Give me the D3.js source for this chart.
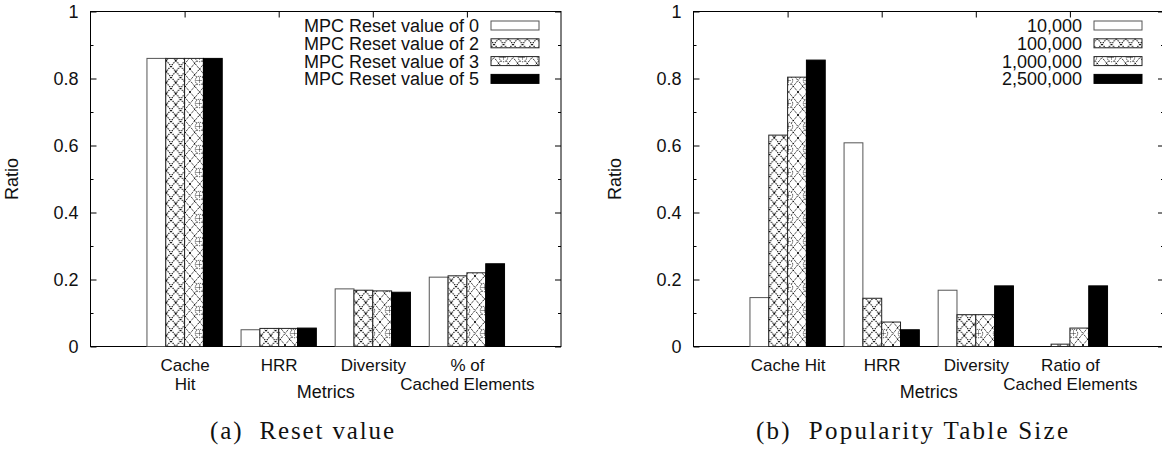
<!DOCTYPE html>
<html>
<head>
<meta charset="utf-8">
<script src="https://cdn.jsdelivr.net/npm/d3@7"></script>
<style>
  body { margin: 0; background: #fff; }
  svg text { font-family: "Liberation Sans", Arial, Helvetica, sans-serif; fill: #111; }
  svg text.caption { font-family: "Liberation Serif", "Times New Roman", serif; }
</style>
</head>
<body>
<svg id="fig" width="1162" height="454"></svg>
<script>
// ---- data -------------------------------------------------------------
const yTicks = [0, 0.2, 0.4, 0.6, 0.8, 1];
const yMinorTicks = [0.1, 0.3, 0.5, 0.7, 0.9];

// (a) effect of the MPC reset value
const metricsReset = [["Cache", "Hit"], ["HRR"], ["Diversity"], ["% of", "Cached Elements"]];
const seriesReset = ["MPC Reset value of 0", "MPC Reset value of 2", "MPC Reset value of 3", "MPC Reset value of 5"];
const reset0 = [0.86, 0.050, 0.172, 0.207];
const reset2 = [0.86, 0.054, 0.168, 0.211];
const reset3 = [0.86, 0.054, 0.166, 0.220];
const reset5 = [0.86, 0.055, 0.162, 0.247];

// (b) effect of the popularity table size
const metricsTable = [["Cache Hit"], ["HRR"], ["Diversity"], ["Ratio of", "Cached Elements"]];
const seriesTable = ["10,000", "100,000", "1,000,000", "2,500,000"];
const size10k = [0.146, 0.608, 0.168, 0.000];
const size100k = [0.631, 0.144, 0.095, 0.007];
const size1m = [0.804, 0.073, 0.095, 0.055];
const size2500k = [0.855, 0.050, 0.181, 0.181];

// ---- fill patterns ----------------------------------------------------
const svg = d3.select("#fig");
const defs = svg.append("defs");

// diagonal cross-hatch made of dotted strokes
const pCross = defs.append("pattern").attr("id", "patCross")
  .attr("patternUnits", "userSpaceOnUse").attr("width", 9.5).attr("height", 11);
pCross.append("rect").attr("width", 9.5).attr("height", 11).attr("fill", "#fff");
pCross.append("path").attr("d", "M0,0L9.5,11M9.5,0L0,11")
  .attr("stroke", "#000").attr("stroke-width", 1).attr("stroke-dasharray", "1.4,1").attr("fill", "none");
pCross.append("rect").attr("x", 4).attr("y", 4.8).attr("width", 1.5).attr("height", 1.5).attr("fill", "#000");

// diamond lattice with small ring motifs
const pRing = defs.append("pattern").attr("id", "patRing")
  .attr("patternUnits", "userSpaceOnUse").attr("width", 19).attr("height", 23);
pRing.append("rect").attr("width", 19).attr("height", 23).attr("fill", "#fff");
pRing.append("path").attr("d", "M0,0L19,23M19,0L0,23M9.5,0L19,11.5L9.5,23L0,11.5Z")
  .attr("stroke", "#000").attr("stroke-width", 1).attr("stroke-dasharray", "1.2,1").attr("fill", "none");
pRing.append("circle").attr("cx", 9.5).attr("cy", 11.5).attr("r", 4.2)
  .attr("fill", "#fff").attr("stroke", "#000").attr("stroke-width", 0.9).attr("stroke-dasharray", "1,1");
pRing.append("path").attr("d", "M9.5,8.5V14.5M6.5,11.5H12.5")
  .attr("stroke", "#000").attr("stroke-width", 0.8).attr("stroke-dasharray", "1,1");

const fills = ["#fff", "url(#patCross)", "url(#patRing)", "#000"];
const strokes = ["#555", "#222", "#222", "#000"];
const FONT = 18;
const CAT_FONT = 17;

// ---- one histogram panel ---------------------------------------------
function panel(opts) {
  const L = opts.left, R = opts.left + 470.5;
  const top = 11.5, bottom = 346.5;
  const g = svg.append("g");

  const x = d3.scaleLinear().domain([-1, 4]).range([L, R]);
  const y = d3.scaleLinear().domain([0, 1]).range([bottom, top]);
  const groups = d3.range(opts.metrics.length);
  const bw = x(0.2) - x(0);

  const tidy = sel => {
    sel.select(".domain").remove();
    sel.selectAll("line").attr("stroke", "#000");
    sel.selectAll("text").attr("font-size", FONT).attr("font-family", null).attr("fill", "#111");
  };

  g.append("g").attr("transform", `translate(${L},0)`)
    .call(d3.axisLeft(y).tickValues(yTicks).tickSize(-6).tickPadding(12).tickFormat(d3.format("~g"))).call(tidy);
  g.append("g").attr("transform", `translate(${L},0)`)
    .call(d3.axisLeft(y).tickValues(yMinorTicks).tickSize(-3).tickFormat("")).call(tidy);
  g.append("g").attr("transform", `translate(${R},0)`)
    .call(d3.axisRight(y).tickValues(yTicks).tickSize(-6).tickFormat("")).call(tidy);
  g.append("g").attr("transform", `translate(${R},0)`)
    .call(d3.axisRight(y).tickValues(yMinorTicks).tickSize(-3).tickFormat("")).call(tidy);
  g.append("g").attr("transform", `translate(0,${top})`)
    .call(d3.axisTop(x).tickValues(groups).tickSize(-6).tickFormat("")).call(tidy);

  // category labels, one text per line
  const bottomAxis = g.append("g").attr("transform", `translate(0,${bottom})`)
    .call(d3.axisBottom(x).tickValues(groups).tickSize(-6).tickFormat("")).call(tidy);
  bottomAxis.selectAll(".tick text").remove();
  bottomAxis.selectAll(".tick").each(function (d) {
    const t = d3.select(this);
    opts.metrics[d].forEach((line, i) => {
      t.append("text").attr("x", 0).attr("y", 24 + i * 19.5)
        .attr("text-anchor", "middle").attr("font-size", CAT_FONT).attr("fill", "#111").text(line);
    });
  });

  // frame
  g.append("rect").attr("x", L).attr("y", top).attr("width", R - L).attr("height", bottom - top)
    .attr("fill", "none").attr("stroke", "#000").attr("stroke-width", 1);

  // bars
  opts.values.forEach((vals, s) => {
    g.append("g").selectAll("rect").data(vals).join("rect")
      .attr("x", (v, i) => x(i - 0.4 + 0.2 * s))
      .attr("y", v => y(v))
      .attr("width", bw)
      .attr("height", v => y(0) - y(v))
      .attr("fill", fills[s])
      .attr("stroke", v => v > 0 ? strokes[s] : "none")
      .attr("stroke-width", 1);
  });

  // legend
  const lg = g.append("g");
  opts.series.forEach((name, i) => {
    const cy = 25.5 + i * 17.8;
    lg.append("text").attr("x", R - 82).attr("y", cy + 6.5)
      .attr("text-anchor", "end").attr("font-size", FONT).text(name);
    lg.append("rect").attr("x", R - 70).attr("y", cy - 4.5).attr("width", 48).attr("height", 9)
      .attr("fill", fills[i]).attr("stroke", strokes[i]).attr("stroke-width", 1);
  });

  // axis titles
  g.append("text").attr("transform", `translate(${L - 73},${(top + bottom) / 2}) rotate(-90)`)
    .attr("text-anchor", "middle").attr("font-size", FONT).text("Ratio");
  g.append("text").attr("x", (L + R) / 2).attr("y", 398)
    .attr("text-anchor", "middle").attr("font-size", FONT).text("Metrics");

  // sub-figure caption
  g.append("text").attr("class", "caption")
    .attr("x", opts.captionX).attr("y", 439).attr("text-anchor", "middle")
    .attr("font-size", 25).attr("textLength", opts.captionWidth).attr("lengthAdjust", "spacing")
    .style("white-space", "pre")
    .text(opts.caption);
}

panel({
  left: 90.5, metrics: metricsReset, series: seriesReset,
  values: [reset0, reset2, reset3, reset5],
  caption: "(a)  Reset value", captionX: 302, captionWidth: 184
});
panel({
  left: 693.5, metrics: metricsTable, series: seriesTable,
  values: [size10k, size100k, size1m, size2500k],
  caption: "(b)  Popularity Table Size", captionX: 912, captionWidth: 312
});
</script>
</body>
</html>
